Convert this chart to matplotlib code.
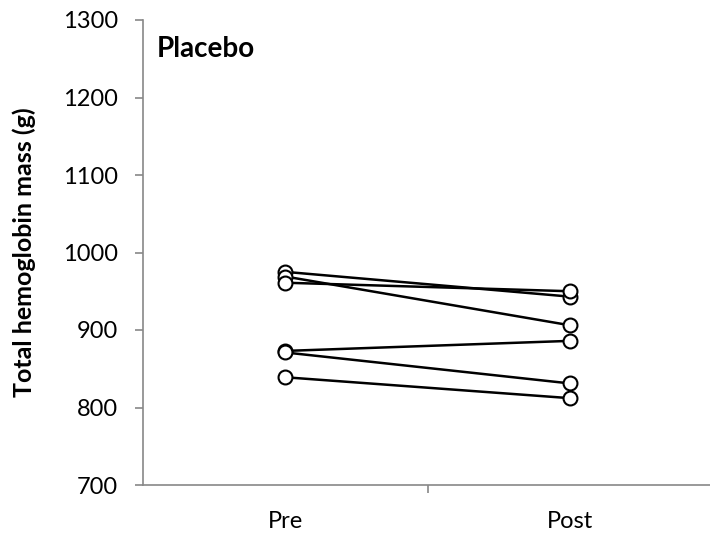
import matplotlib
matplotlib.use("Agg")
import matplotlib.pyplot as plt
import numpy as np

categories = ["Pre", "Post"]
pre = [975, 969, 961, 873, 871, 839]
post = [943, 906, 950, 886, 831, 812]

plt.rcParams['font.family'] = ['Lato', 'DejaVu Sans']

fig = plt.figure(figsize=(7.10, 5.43), dpi=100)
ax = fig.add_axes([143/710, 1 - 485/543, 1 - 143/710, (485 - 20)/543])

x = np.arange(len(categories))
for a, b in zip(pre, post):
    ax.plot(x, [a, b], color="black", lw=1.8, marker="o", ms=10,
            mfc="white", mec="black", mew=1.5, zorder=3, clip_on=False)

ax.set_xlim(-0.5, 1.49)
ax.set_ylim(700, 1300)
ax.set_yticks(np.arange(700, 1301, 100))
ax.set_xticks([0.5])
ax.set_xticklabels([""])
ax.set_xticks(x, minor=True)
ax.set_xticklabels(categories, minor=True, fontsize=17)
ax.tick_params(axis="x", which="minor", length=0, pad=19)
ax.tick_params(axis="x", which="major", length=6, color="#888888", width=1.2, direction="out")
ax.tick_params(axis="y", length=6, color="#888888", width=1.2, labelsize=17, pad=12)

for s in ["top", "right"]:
    ax.spines[s].set_visible(False)
for s in ["left", "bottom"]:
    ax.spines[s].set_color("#888888")
    ax.spines[s].set_linewidth(1.2)

ax.set_ylabel("Total hemoglobin mass (g)", fontsize=18, fontweight="bold")
ax.yaxis.set_label_coords((36 - 143) / 567, 0.5)
ax.text((157 - 143) / 567, (485 - 36) / 465, "Placebo", transform=ax.transAxes,
        fontsize=20, fontweight="bold", va="top", ha="left")

fig.savefig("out.png", dpi=100)
